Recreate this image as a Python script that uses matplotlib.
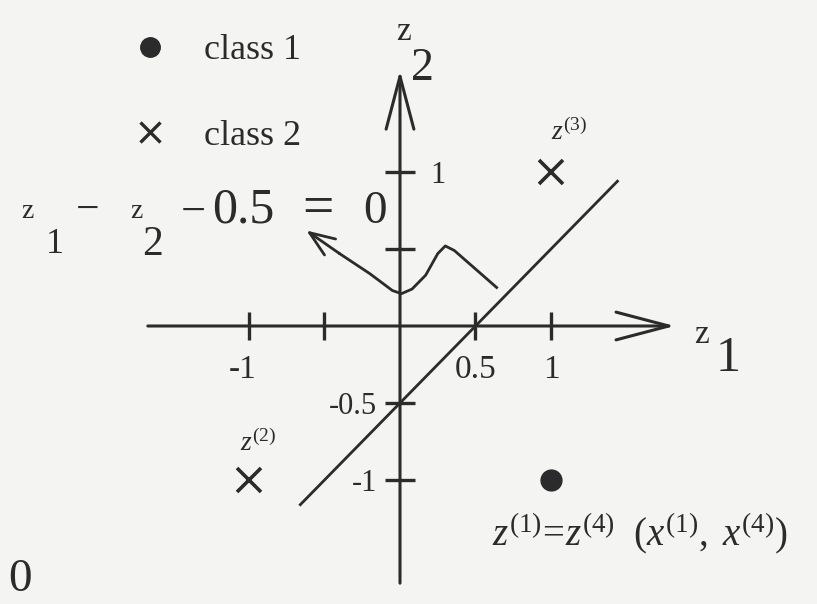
import matplotlib
matplotlib.use('Agg')
import matplotlib.pyplot as plt
from matplotlib.lines import Line2D

# patterns mapped into the (z1, z2) plane
class1_z1 = [1]
class1_z2 = [-1]
class2_z1 = [-1, 1]
class2_z2 = [-1, 1]

# separating line z1 - z2 - 0.5 = 0, drawn over this z1 span
boundary_z1 = [-0.66, 1.44]
boundary_offset = 0.5

xtick_vals = [-1, -0.5, 0.5, 1]
xtick_text = ['-1', '', '0.5', '1']
ytick_vals = [1, 0.5, -0.5, -1]
ytick_text = ['1', '', '-0.5', '-1']

# wavy pointer from the line up to its equation
callout_z1 = [0.64, 0.36, 0.30, 0.25, 0.17, 0.08, 0.01, -0.05, -0.20, -0.40, -0.62]
callout_z2 = [0.25, 0.49, 0.52, 0.47, 0.33, 0.24, 0.21, 0.23, 0.34, 0.47, 0.62]

INK = '#2b2b2b'
PAPER = '#f4f4f2'
W, H = 817, 604

plt.rcParams['font.family'] = ['Liberation Serif', 'DejaVu Serif']
plt.rcParams['mathtext.fontset'] = 'custom'
plt.rcParams['mathtext.rm'] = 'Liberation Serif'
plt.rcParams['mathtext.it'] = 'Liberation Serif:italic'

fig = plt.figure(figsize=(W / 100, H / 100), dpi=100, facecolor=PAPER)
ax = fig.add_axes([0, 0, 1, 1])
ax.set_facecolor(PAPER)
ax.set_xlim(-400 / 151, (W - 400) / 151)
ax.set_ylim(-(H - 326) / 154, 326 / 154)
ax.axis('off')


def put(px, py, s, size, **kw):
    # place text by pixel position (baseline) on the page
    fig.text(px / W, 1 - py / H, s, fontsize=size, color=INK,
             ha='left', va='baseline', **kw)


# coordinate axes with open arrow heads
arrow = dict(arrowstyle='->, head_length=1.9, head_width=0.5', mutation_scale=20,
             lw=2.2, color=INK, shrinkA=0, shrinkB=0)
ax.annotate('', xy=(1.82, 0), xytext=(-1.67, 0), arrowprops=arrow)
ax.annotate('', xy=(0, 1.66), xytext=(0, -1.67), arrowprops=arrow)

# tick marks and their labels
ax.plot(xtick_vals, [0] * len(xtick_vals), ls='none', marker='|', ms=20, mew=2.4, color=INK)
ax.plot([0] * len(ytick_vals), ytick_vals, ls='none', marker='_', ms=22, mew=2.4, color=INK)
for v, t in zip(xtick_vals, xtick_text):
    if t:
        ax.text(v - 0.04 * (v < 0), -0.34, t, fontsize=24, color=INK, ha='center', va='baseline')
for v, t in zip(ytick_vals, ytick_text):
    if t:
        if v > 0:
            ax.text(0.2, v, t, fontsize=22, color=INK, ha='left', va='center_baseline')
        else:
            ax.text(-0.15, v, t, fontsize=22, color=INK, ha='right', va='center_baseline')

# decision boundary
boundary_z2 = [z - boundary_offset for z in boundary_z1]
ax.plot(boundary_z1, boundary_z2, color=INK, lw=2.0)

# samples
ax.plot(class1_z1, class1_z2, ls='none', marker='o', ms=15, color=INK)
ax.plot(class2_z1, class2_z2, ls='none', marker='x', ms=17, mew=2.6, color=INK)

# pointer curve with arrow head at its end
ax.plot(callout_z1[:-1], callout_z2[:-1], color=INK, lw=2.0)
ax.annotate('', xy=(callout_z1[-1], callout_z2[-1]), xytext=(callout_z1[-2], callout_z2[-2]),
            arrowprops=dict(arrowstyle='->, head_length=0.9, head_width=0.35', mutation_scale=20,
                            lw=2.0, color=INK, shrinkA=0, shrinkB=0))

# legend
handles = [Line2D([], [], ls='none', marker='o', ms=14, color=INK),
           Line2D([], [], ls='none', marker='x', ms=15, mew=2.4, color=INK)]
ax.legend(handles, ['class 1', 'class 2'], loc='upper left',
          bbox_to_anchor=(132 / W, 1 - 34 / H), bbox_transform=fig.transFigure,
          frameon=False, fontsize=26, handlelength=1.0, handletextpad=1.0,
          labelspacing=1.45, borderpad=0, borderaxespad=0, labelcolor=INK)

# axis names
put(396, 40, 'z', 24)
put(411, 80, '2', 33)
put(694, 343, 'z', 24)
put(716, 371, '1', 36)

# equation of the boundary
put(21, 218, 'z', 20)
put(46, 253, '1', 26)
put(76, 221, '\u2212', 30)
put(130, 218, 'z', 20)
put(142, 255, '2', 30)
put(181, 224, '\u2212', 32)
put(212, 223, '0.5', 36)
put(302, 224, '=', 40)
put(363, 223, '0', 34)

# point names
put(551, 140, r'$z^{(3)}$', 20)
put(240, 451, r'$z^{(2)}$', 20)
put(492, 546, r'$z^{(1)}\!=\!z^{(4)}\ \ (x^{(1)},\ x^{(4)})$', 28)

put(8, 591, '0', 34)

fig.savefig('out.png', dpi=100, facecolor=PAPER)
